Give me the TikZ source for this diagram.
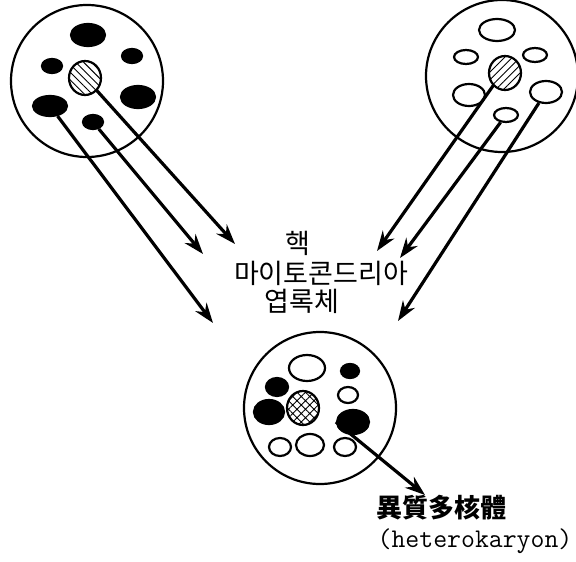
\documentclass[tikz,border=0pt]{standalone}
\usepackage{fontspec}
\newfontfamily\kor{Noto Sans CJK KR}
\usetikzlibrary{shapes.geometric, arrows.meta, patterns.meta}
\tikzstyle{cell}=[draw,circle,line width=2.2pt,minimum size=152pt,inner sep=0pt]
\tikzstyle{org}=[draw,ellipse,line width=2.2pt,inner sep=0pt]
\tikzstyle{dark}=[org,fill=black]
\tikzstyle{pale}=[org,fill=white]
\tikzstyle{backslash}=[pattern={Lines[angle=-45,distance=5.5pt,line width=0.9pt]}]
\tikzstyle{slash}=[pattern={Lines[angle=45,distance=5.5pt,line width=0.9pt]}]
\tikzstyle{cross}=[pattern={Hatch[angle=45,distance=6pt,line width=0.9pt]}]
\tikzstyle{transfer}=[line width=3.2pt,-{Stealth[length=20pt,width=14pt]}]
\tikzstyle{lbl}=[font=\kor\fontsize{27}{27}\selectfont,inner sep=0pt]

\begin{document}
\begin{tikzpicture}[x=1pt,y=-1pt]
    \useasboundingbox (0,0) rectangle (576,562);
    \foreach \p/\n in {{87,81}/left, {502,76}/right, {320,408}/hetero} \node[cell] (\n) at (\p) {};
    \foreach \p/\n/\rx/\ry in {{88,35}/la/17/11, {52,66}/lb/10/7, {132,56}/lc/10/7, {138,97}/ld/17/11, {50,106}/le/17/10, {93,122}/lf/10/7,
            {350,371}/hf/9/7, {277,387}/hg/11/9, {269,412}/hh/15/12, {353,422}/hi/16/12}
        \node[dark,minimum width=2*\rx,minimum height=2*\ry] (\n) at (\p) {};
    \foreach \p/\n/\rx/\ry in {{497,30}/ra/18/11, {466,57}/rb/12/7, {535,55}/rc/12/7, {469,95}/rd/16/11, {546,92}/re/16/11, {506,115}/rf/12/7,
            {307,368}/ha/18/13, {348,395}/hb/10/8, {280,447}/hc/11/9, {310,445}/hd/14/11, {345,447}/he/11/9}
        \node[pale,minimum width=2*\rx,minimum height=2*\ry] (\n) at (\p) {};
    \foreach \p/\n/\pat in {{85,78}/ln/backslash, {505,73}/rn/slash, {303,408}/hn/cross}
        \node[org,\pat,minimum width=32,minimum height=34] (\n) at (\p) {};

    \node[lbl] (nuc) at (298,243) {핵};
    \node[lbl] (mito) at (321,273) {마이토콘드리아};
    \node[lbl] (chlo) at (302,301) {엽록체};
    \node[font=\kor\bfseries\fontsize{26}{26}\selectfont,inner sep=0pt] (het) at (441,508) {異質多核體};
    \node[font=\ttfamily\fontsize{27}{27}\selectfont,inner sep=0pt] (hetlbl) at (475,541) {(heterokaryon)};

    \foreach \p/\n in {{235,244}/t1, {203,254}/t2, {213,323}/t3, {377,251}/t4, {400,258}/t5, {398,321}/t6, {425,495}/t7}
        \coordinate (\n) at (\p);
    \foreach \a/\b in {ln.south east/t1, lf/t2, le/t3, rn.south west/t4, rf/t5, re/t6, hi.west/t7}
        \draw[transfer] (\a) -- (\b);
\end{tikzpicture}
\end{document}
